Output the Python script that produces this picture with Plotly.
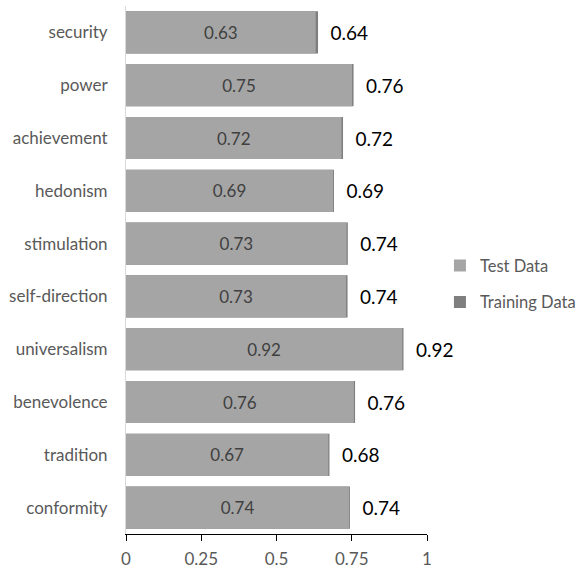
import plotly.graph_objects as go

categories = ["security", "power", "achievement", "hedonism", "stimulation",
              "self-direction", "universalism", "benevolence", "tradition", "conformity"]
test_values = [0.630, 0.751, 0.716, 0.688, 0.733, 0.731, 0.918, 0.757, 0.672, 0.741]
train_values = [0.638, 0.756, 0.721, 0.691, 0.737, 0.736, 0.922, 0.761, 0.676, 0.744]
x_ticks = [0, 0.25, 0.5, 0.75, 1]
x_tick_labels = ["0", "0.25", "0.5", "0.75", "1"]

FONT = "Lato, 'Open Sans', sans-serif"

fig = go.Figure()
fig.add_trace(go.Bar(
    y=categories, x=train_values, orientation="h", name="Training Data",
    marker=dict(color="#7f7f7f", line=dict(width=0)),
    texttemplate="\u2002%{x:.2f}", textposition="outside",
    textfont=dict(family=FONT, size=19, color="#000000"),
    legendrank=2, legendgroup="train", cliponaxis=False,
))
fig.add_trace(go.Bar(
    y=categories, x=test_values, orientation="h", name="Test Data",
    marker=dict(color="#a5a5a5", line=dict(width=0)),
    texttemplate="%{x:.2f}", textposition="inside", insidetextanchor="middle",
    textangle=0,
    textfont=dict(family=FONT, size=17, color="#404040"),
    legendrank=1, legendgroup="test",
))

fig.update_layout(
    width=582, height=571,
    barmode="overlay", bargap=0.2,
    plot_bgcolor="white", paper_bgcolor="white",
    margin=dict(l=126, r=155, t=6, b=37, autoexpand=False),
    font=dict(family=FONT, color="#595959", size=17),
    showlegend=True,
    legend=dict(x=1.043, y=0.474, xanchor="left", yanchor="middle",
                font=dict(family=FONT, size=16.5, color="#595959"),
                itemwidth=30, tracegroupgap=12, bgcolor="rgba(0,0,0,0)"),
    xaxis=dict(range=[0, 1], tickvals=x_ticks, ticktext=x_tick_labels,
               showgrid=False, zeroline=False, showline=True, linecolor="#000000",
               linewidth=1, ticks="outside", ticklen=6, tickcolor="#000000",
               ticklabelstandoff=4,
               tickfont=dict(family=FONT, size=17, color="#595959")),
    yaxis=dict(autorange="reversed", showgrid=False, zeroline=False,
               showline=True, linecolor="#d9d9d9", linewidth=1, ticks="",
               ticklabelstandoff=14,
               tickfont=dict(family=FONT, size=17, color="#595959")),
)

fig.write_html("out.html")
